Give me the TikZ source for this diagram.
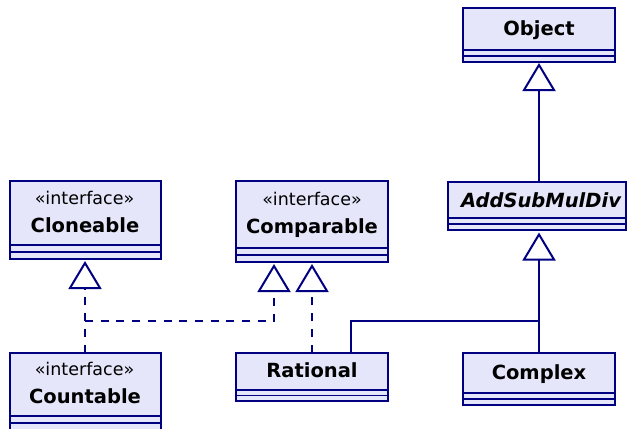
\documentclass[tikz,border=0pt]{standalone}
\usepackage{fontspec}
\setmainfont{DejaVu Sans}
\usetikzlibrary{arrows.meta}
\definecolor{umlfill}{RGB}{230,230,250}
\definecolor{umlline}{RGB}{0,0,128}
\tikzset{
  cls/.style={draw=umlline, fill=umlfill, line width=2pt, inner sep=0pt, outer sep=0pt, rectangle, anchor=north west},
  sepline/.style={draw=umlline, line width=1.8pt},
  nametxt/.style={anchor=base, inner sep=0pt, font=\fontsize{19.5}{22}\selectfont\bfseries},
  stereotxt/.style={anchor=base, inner sep=0pt, font=\fontsize{17.5}{20}\selectfont},
  gen/.style={draw=umlline, line width=2pt, -{Triangle[open, length=28pt, width=33pt, line width=2pt]}},
  real/.style={gen, dash pattern=on 8pt off 7.7pt},
  assoc/.style={draw=umlline, line width=2pt},
}
\newcommand\umlbox[7]{%
  \pgfmathsetmacro\bw{#4-#2}\pgfmathsetmacro\bh{#5-#3}%
  \node[cls, minimum width=\bw pt, minimum height=\bh pt] (#1) at (#2,#3) {};
  \draw[sepline] (#2,#6) -- (#4,#6);
  \draw[sepline] (#2,#7) -- (#4,#7);
}
\begin{document}
\begin{tikzpicture}[x=1pt, y=-1pt]
\useasboundingbox (0,0) rectangle (628,428);
\begin{scope}
\clip (0,0) rectangle (628,428);
% boxes
\umlbox{object}{463}{8.3}{615}{61.5}{50}{55.7}
\umlbox{asmd}{448.3}{182}{626}{230}{218}{224}
\umlbox{clone}{9.5}{181}{160.5}{258.5}{245}{251.7}
\umlbox{comp}{236}{181}{388}{262}{248}{255}
\umlbox{count}{9.5}{352.5}{160.5}{430}{416}{422.7}
\umlbox{rational}{236}{352.5}{388}{401}{390}{395.5}
\umlbox{complex}{463}{352.5}{615}{404.5}{393.3}{399}
% texts
\node[nametxt] (objectT) at (539,35.5) {Object};
\node[nametxt, font=\fontsize{19.5}{22}\selectfont\bfseries\itshape] (asmdT) at (541,207) {AddSubMulDiv};
\node[stereotxt] (cloneS) at (84.5,204.3) {«interface»};
\node[nametxt] (cloneT) at (85,232.3) {Cloneable};
\node[stereotxt] (compS) at (312,205) {«interface»};
\node[nametxt] (compT) at (312,233.3) {Comparable};
\node[stereotxt] (countS) at (84.5,375.8) {«interface»};
\node[nametxt] (countT) at (85,403.8) {Countable};
\node[nametxt] (rationalT) at (312,377) {Rational};
\node[nametxt] (complexT) at (539,379.3) {Complex};
% junction coordinates
\coordinate (rj) at (539,321);
\coordinate (cj) at (85,321);
% connectors
\draw[gen] (object.south |- asmd.north) -- ([yshift=-1.5pt]object.south);
\draw[gen] (complex.north) -- ([yshift=-2.5pt]asmd.south -| complex.north);
\draw[assoc] ([xshift=39pt]rational.north) |- (rj);
\draw[real] (count.north) -- ([yshift=-2.5pt]clone.south);
\draw[real] (cj) -| ([xshift=-38pt,yshift=-2pt]comp.south);
\draw[real] (rational.north) -- ([yshift=-2pt]comp.south);
\end{scope}
\end{tikzpicture}
\end{document}
